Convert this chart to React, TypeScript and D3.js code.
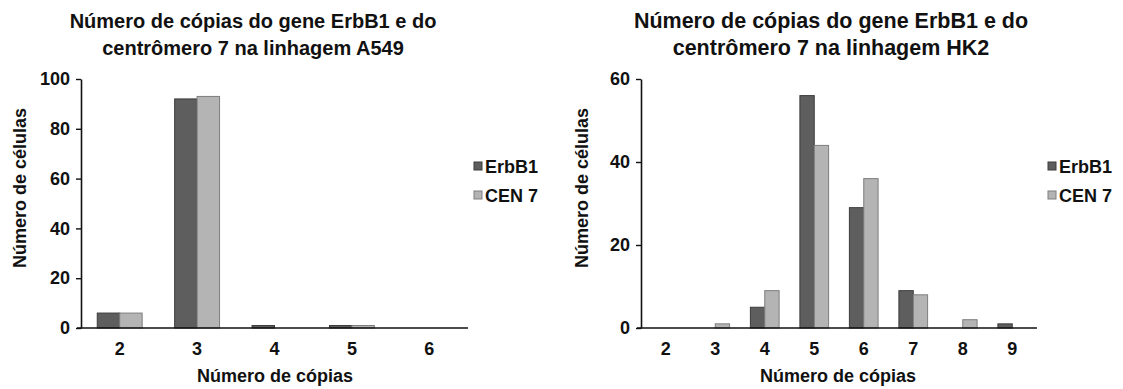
import React, { useEffect, useRef } from 'react'
import * as d3 from 'd3'

// A549 panel
const a549Categories = ['2', '3', '4', '5', '6']
const a549ErbB1 = [6, 92, 1, 1, 0]
const a549Cen7 = [6, 93, 0, 1, 0]
const a549Ticks = [0, 20, 40, 60, 80, 100]

// HK2 panel
const hk2Categories = ['2', '3', '4', '5', '6', '7', '8', '9']
const hk2ErbB1 = [0, 0, 5, 56, 29, 9, 0, 1]
const hk2Cen7 = [0, 1, 9, 44, 36, 8, 2, 0]
const hk2Ticks = [0, 20, 40, 60]

const seriesNames = ['ErbB1', 'CEN 7']
const fills = ['#5e5e5e', '#b4b4b4']
const strokes = ['#3c3c3c', '#7e7e7e']

const FONT = '"Liberation Sans", Arial, sans-serif'

interface PanelProps {
  ox: number
  titleLines: string[]
  titleSize: number
  titleX: number
  categories: string[]
  series: number[][]
  ticks: number[]
  plotLeft: number
  plotRight: number
  legendX: number
  yTitleX: number
  xTitleX: number
}

const Panel = (props: PanelProps) => {
  const ref = useRef<SVGGElement>(null)

  useEffect(() => {
    const g = d3.select(ref.current)
    g.selectAll('*').remove()

    const top = 79
    const bottom = 328
    const y = d3.scaleLinear()
      .domain([0, props.ticks[props.ticks.length - 1]])
      .range([bottom, top])
    const x = d3.scaleBand()
      .domain(props.categories)
      .range([props.plotLeft, props.plotRight])
      .paddingInner(0.42)
      .paddingOuter(0.21)
    const inner = d3.scaleBand()
      .domain(seriesNames)
      .range([0, x.bandwidth()])

    // title
    const title = g.append('text')
      .attr('x', props.titleX)
      .attr('text-anchor', 'middle')
      .style('font-family', FONT)
      .style('font-weight', 'bold')
      .style('font-size', props.titleSize + 'px')
      .attr('fill', '#111')
    props.titleLines.forEach((line, i) => {
      title.append('tspan')
        .attr('x', props.titleX)
        .attr('y', 28 + i * 27)
        .text(line)
    })

    // bars
    props.series.forEach((vals, si) => {
      g.append('g')
        .selectAll('rect')
        .data(vals.map((v, i) => ({ v, c: props.categories[i] })).filter(d => d.v > 0))
        .enter().append('rect')
        .attr('x', d => (x(d.c) as number) + (inner(seriesNames[si]) as number))
        .attr('y', d => y(d.v))
        .attr('width', inner.bandwidth())
        .attr('height', d => bottom - y(d.v))
        .attr('fill', fills[si])
        .attr('stroke', strokes[si])
        .attr('stroke-width', 1)
    })

    // y axis
    const yAxis = g.append('g')
      .attr('transform', `translate(${props.plotLeft},0)`)
      .call(d3.axisLeft(y).tickValues(props.ticks).tickSize(5).tickSizeOuter(0))
    yAxis.select('.domain').attr('stroke', '#111').attr('stroke-width', 1.6)
    yAxis.selectAll('.tick line').attr('stroke', '#111').attr('stroke-width', 1.4)
    yAxis.selectAll('.tick text')
      .attr('x', -11)
      .style('font-family', FONT)
      .style('font-weight', 'bold')
      .style('font-size', '18px')
      .attr('fill', '#111')

    // x axis
    const xAxis = g.append('g')
      .attr('transform', `translate(0,${bottom})`)
      .call(d3.axisBottom(x).tickSize(0).tickSizeOuter(0))
    xAxis.select('.domain')
      .attr('d', `M${props.plotLeft - 4},0H${props.plotRight}`)
      .attr('stroke', '#111').attr('stroke-width', 1.6)
    xAxis.selectAll('.tick text')
      .attr('y', 14)
      .style('font-family', FONT)
      .style('font-weight', 'bold')
      .style('font-size', '18px')
      .attr('fill', '#111')

    // axis titles
    g.append('text')
      .attr('x', props.xTitleX)
      .attr('y', 382)
      .attr('text-anchor', 'middle')
      .style('font-family', FONT)
      .style('font-weight', 'bold')
      .style('font-size', '18px')
      .attr('fill', '#111')
      .text('Número de cópias')
    g.append('text')
      .attr('transform', `translate(${props.yTitleX},188) rotate(-90)`)
      .attr('text-anchor', 'middle')
      .style('font-family', FONT)
      .style('font-weight', 'bold')
      .style('font-size', '18px')
      .attr('fill', '#111')
      .text('Número de células')

    // legend
    seriesNames.forEach((name, i) => {
      const ly = 166 + i * 29
      g.append('rect')
        .attr('x', props.legendX)
        .attr('y', ly - 4)
        .attr('width', 8)
        .attr('height', 8)
        .attr('fill', fills[i])
        .attr('stroke', strokes[i])
      g.append('text')
        .attr('x', props.legendX + 11)
        .attr('y', ly + 6.5)
        .style('font-family', FONT)
        .style('font-weight', 'bold')
        .style('font-size', '18px')
        .attr('fill', '#111')
        .text(name)
    })
  })

  return <g ref={ref} transform={`translate(${props.ox},0)`}></g>
}

const App = () => {
  return (
    <svg width={1123} height={389} style={{ position: 'absolute', left: 0, top: 0, background: '#fff' }}>
      <Panel
        ox={0}
        titleLines={['Número de cópias do gene ErbB1 e do', 'centrômero 7 na linhagem A549']}
        titleSize={20}
        titleX={253}
        categories={a549Categories}
        series={[a549ErbB1, a549Cen7]}
        ticks={a549Ticks}
        plotLeft={81}
        plotRight={468}
        legendX={474}
        yTitleX={26}
        xTitleX={275}
      />
      <Panel
        ox={560}
        titleLines={['Número de cópias do gene ErbB1 e do', 'centrômero 7 na linhagem HK2']}
        titleSize={21.5}
        titleX={271}
        categories={hk2Categories}
        series={[hk2ErbB1, hk2Cen7]}
        ticks={hk2Ticks}
        plotLeft={81}
        plotRight={477}
        legendX={488}
        yTitleX={28}
        xTitleX={278}
      />
    </svg>
  )
}

export default App
